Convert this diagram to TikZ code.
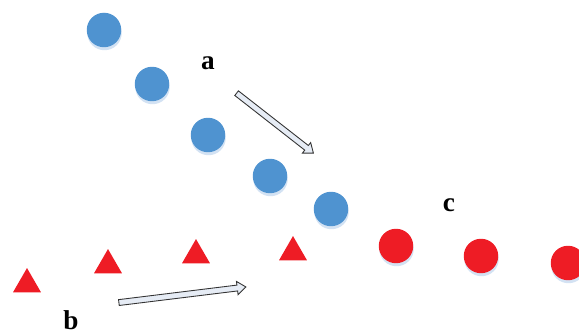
\documentclass[tikz,border=0pt]{standalone}
\usepackage{fontspec}
\setmainfont{Liberation Serif}
\usetikzlibrary{shapes.geometric,shapes.arrows,shadows}
\definecolor{dotblue}{HTML}{4F93D0}
\definecolor{dotred}{HTML}{EE1C25}
\definecolor{shadowblue}{HTML}{D3E2F3}
\definecolor{arrowfill}{HTML}{E6ECF5}

\begin{document}
\begin{tikzpicture}[
    x=0.02cm, y=-0.02cm,
    dot/.style={circle, inner sep=0pt, minimum size=0.69cm,
        drop shadow={shadow xshift=0.01cm, shadow yshift=-0.06cm, fill=shadowblue, opacity=1}},
    bluedot/.style={dot, fill=dotblue},
    reddot/.style={dot, fill=dotred},
    tri/.style={regular polygon, regular polygon sides=3, inner sep=0pt, minimum size=0.646cm, fill=dotred},
    bigarrow/.style={single arrow, inner sep=0.05cm, single arrow head extend=0.075cm, single arrow tip angle=75,
        fill=arrowfill, draw=black!80, line width=0.5pt},
    lbl/.style={anchor=base, font=\fontsize{15.5}{18}\selectfont\bfseries}
]
\useasboundingbox (0,0) rectangle (579,334);
\node[bluedot] (b1) at (104,30) {};
\node[bluedot] (b2) at (152,84) {};
\node[bluedot] (b3) at (208,135) {};
\node[bluedot] (b4) at (270,176) {};
\node[bluedot] (b5) at (331,209) {};
\node[reddot] (r1) at (396,246) {};
\node[reddot] (r2) at (481,256) {};
\node[reddot] (r3) at (568,263) {};
\node[tri] (t1) at (27,284.2) {};
\node[tri] (t2) at (108,265.2) {};
\node[tri] (t3) at (196,255.2) {};
\node[tri] (t4) at (293,252.2) {};
\node[bigarrow, minimum height=1.95cm, rotate=-38] (arra) at (273.5,122) {};
\node[bigarrow, minimum height=2.56cm, rotate=7] (arrb) at (180.5,295) {};
\node[lbl] (la) at (208,70) {a};
\node[lbl] (lb) at (71,330) {b};
\node[lbl] (lc) at (449,212) {c};
\end{tikzpicture}
\end{document}
